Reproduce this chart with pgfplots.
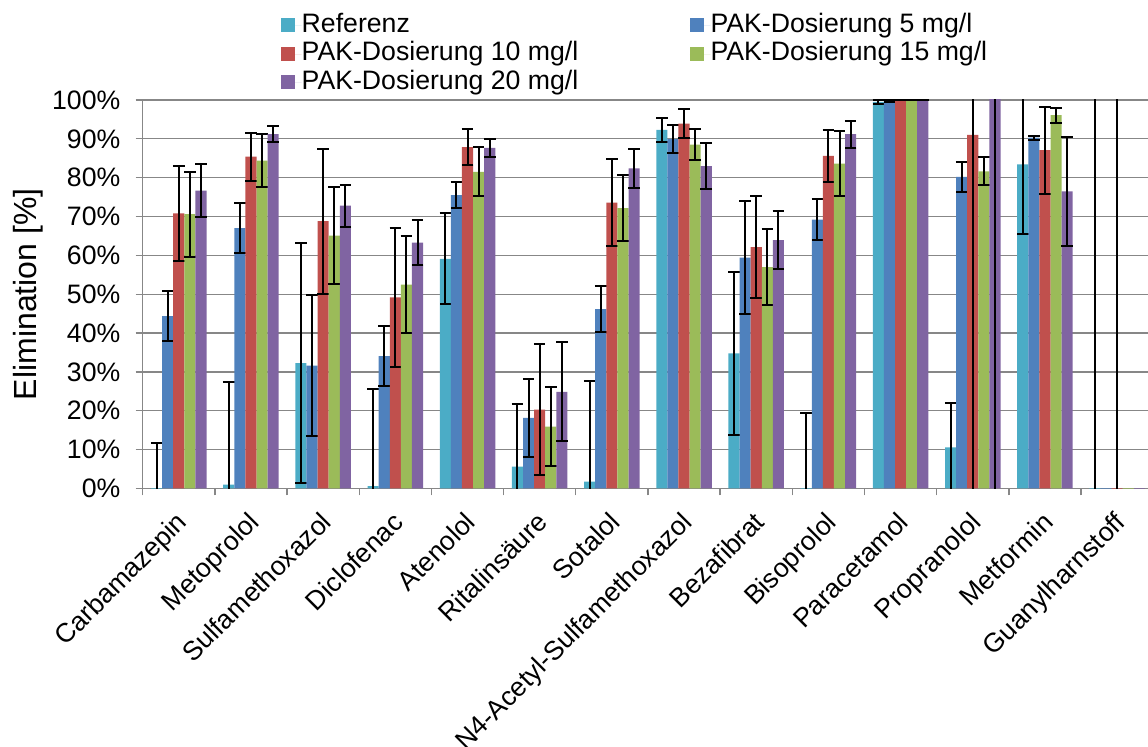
\documentclass[border=0pt]{standalone}
\usepackage{fontspec}
\setmainfont{Liberation Sans}
\usepackage{pgfplots}
\pgfplotsset{compat=1.18}
\usepackage{pgfplotstable}
\definecolor{cRef}{HTML}{4BACC6}
\definecolor{cFive}{HTML}{4F81BD}
\definecolor{cTen}{HTML}{C0504D}
\definecolor{cFifteen}{HTML}{9BBB59}
\definecolor{cTwenty}{HTML}{8064A2}
\definecolor{gridgray}{HTML}{878787}
\newcommand{\fsT}{\fontsize{13.33}{16}\selectfont}
\newcommand{\fsL}{\fontsize{16}{19}\selectfont}

\pgfplotstableread{
x y e
0 -0.5 12.3
1 1.0 26.4
2 32.3 30.9
3 0.6 25.1
4 59.1 11.7
5 5.6 16.1
6 1.8 25.8
7 92.3 3.0
8 34.8 21.0
9 -0.5 20.0
10 99.5 0.5
11 10.6 11.3
12 83.4 17.8
13 -0.3 150
}\tRef
\pgfplotstableread{
x y e
0 44.4 6.5
1 67.0 6.5
2 31.6 18.2
3 34.1 7.7
4 75.5 3.3
5 18.2 10.0
6 46.2 5.8
7 89.9 3.6
8 59.4 14.5
9 69.2 5.2
10 99.7 0.3
11 80.2 3.9
12 90.3 0.5
13 -0.3 0
}\tFive
\pgfplotstableread{
x y e
0 70.8 12.2
1 85.4 6.2
2 68.8 18.7
3 49.2 17.8
4 87.9 4.6
5 20.3 16.8
6 73.6 11.3
7 93.9 3.8
8 62.1 13.1
9 85.6 6.7
10 100.4 0.4
11 91.0 110
12 87.1 11.2
13 -0.3 150
}\tTen
\pgfplotstableread{
x y e
0 70.6 10.9
1 84.4 6.8
2 65.1 12.4
3 52.5 12.5
4 81.5 6.3
5 15.9 10.1
6 72.2 8.6
7 88.5 4.0
8 57.0 9.7
9 83.6 8.4
10 100.4 0.4
11 81.6 3.6
12 96.1 1.9
13 -0.3 0
}\tFifteen
\pgfplotstableread{
x y e
0 76.7 6.9
1 91.2 2.1
2 72.8 5.4
3 63.3 5.8
4 87.7 2.3
5 24.9 12.8
6 82.4 5.0
7 83.0 5.9
8 63.9 7.5
9 91.2 3.5
10 100.4 0.4
11 110 130
12 76.5 14.0
13 -0.3 0
}\tTwenty

\pgfplotsset{
  mybar/.style={draw=none, fill=#1,
    legend image code/.code={\fill[fill=#1] (0pt,-3.4pt) rectangle (7pt,3.6pt); \path (0pt,0pt) -- (10.35pt,0pt);},
    error bars/.cd, y dir=both, y explicit,
    error bar style={black, line width=1pt},
    error mark options={rotate=90, black, line width=1pt, mark size=2.9pt}},
}

\begin{document}
\begin{tikzpicture}
\useasboundingbox (0,0) rectangle (574pt,373pt);
\begin{axis}[
  at={(71.35pt,128.75pt)}, anchor=south west,
  scale only axis, width=505.26pt, height=194.25pt,
  xmin=-0.5, xmax=13.5, ymin=0, ymax=100,
  ybar=0pt, bar width=5.55pt,
  axis lines=left, axis line style={draw=gridgray, line width=0.65pt, -},
  ymajorgrids, grid style={draw=gridgray, line width=0.65pt},
  xtick={-0.5,0.5,...,13.5},
  x tick label as interval,
  xticklabels={Carbamazepin,Metoprolol,Sulfamethoxazol,Diclofenac,Atenolol,Ritalinsäure,Sotalol,N4-Acetyl-Sulfamethoxazol,Bezafibrat,Bisoprolol,Paracetamol,Propranolol,Metformin,Guanylharnstoff},
  ytick={0,10,...,100},
  yticklabels={0\%,10\%,20\%,30\%,40\%,50\%,60\%,70\%,80\%,90\%,100\%},
  tick align=outside, major tick length=3.5pt,
  tick style={draw=gridgray, line width=0.65pt},
  x tick label style={font=\fsT, inner sep=0pt, xshift=-2.05pt, yshift=-7.2pt, rotate=45, anchor=north east},
  y tick label style={font=\fsT, inner sep=0pt, xshift=-7.5pt},
  ylabel={Elimination [\%]},
  ylabel style={at={(axis description cs:-0.11351,0.5)}, anchor=center, font=\fsL},
  legend columns=2,
  legend cell align=left,
  legend style={at={(axis description cs:0.13686,1.22291)}, anchor=north west,
    draw=none, fill=none, font=\fsT, column sep=0pt, row sep=2pt, inner sep=0pt, outer sep=0pt,
    nodes={inner sep=0pt, text height=9.5pt, text depth=2.75pt},
    /tikz/every even column/.append style={column sep=55.8pt}},
]
\addplot[mybar=cRef] table[x=x,y=y,y error=e]{\tRef};
\addplot[mybar=cFive] table[x=x,y=y,y error=e]{\tFive};
\addplot[mybar=cTen] table[x=x,y=y,y error=e]{\tTen};
\addplot[mybar=cFifteen] table[x=x,y=y,y error=e]{\tFifteen};
\addplot[mybar=cTwenty] table[x=x,y=y,y error=e]{\tTwenty};
\legend{Referenz,PAK-Dosierung 5 mg/l,PAK-Dosierung 10 mg/l,PAK-Dosierung 15 mg/l,PAK-Dosierung 20 mg/l}
\end{axis}
\end{tikzpicture}
\end{document}
